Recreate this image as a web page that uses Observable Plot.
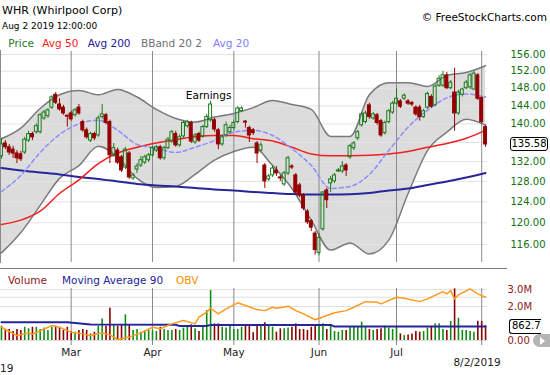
<!DOCTYPE html>
<html><head><meta charset="utf-8">
<script src="https://cdn.jsdelivr.net/npm/d3@7"></script>
<script src="https://cdn.jsdelivr.net/npm/@observablehq/plot@0.6"></script>
<style>
html,body{margin:0;padding:0;background:#fff;}
#wrap{position:relative;width:550px;height:375px;overflow:hidden;font-family:"DejaVu Sans",Verdana,sans-serif;}
.t{position:absolute;white-space:nowrap;line-height:1;}
.pl{position:absolute;left:0;}
.box{position:absolute;border:1px solid #000;border-radius:3px;background:#fff;font-size:10px;line-height:12px;text-align:center;color:#000;box-sizing:border-box;}
</style></head><body>
<div id="wrap"></div>
<script>
// ---- data (trading-day index 0 = Feb 4 2019 ... 125 = Aug 2 2019) ----
const open = [133.1,135.8,135.0,134.5,133.7,133.5,133.9,136.4,137.8,138.2,
138.2,141.2,141.7,143.6,146.5,144.3,143.6,141.8,142.3,141.9,
143.6,140.4,138.6,136.4,137.8,137.5,141.5,141.9,140.4,133.3,
134.3,132.9,130.8,133.7,128.6,130.4,131.2,131.8,132.3,133.3,
134.3,135.0,132.7,134.8,136.2,137.8,135.4,137.3,139.5,140.2,
136.0,137.8,137.3,139.3,140.8,140.8,138.6,135.6,137.5,138.2,
139.1,140.4,142.8,140.5,139.1,138.6,135.8,134.3,131.2,128.4,
129.2,130.2,128.8,127.4,129.6,131.0,129.2,127.2,125.2,122.1,
120.3,118.0,114.5,118.8,126.2,127.6,128.0,130.0,130.0,131.2,
132.9,134.8,136.9,139.7,140.4,144.1,141.2,141.9,140.6,138.0,
140.4,142.5,144.5,145.0,145.6,145.0,144.6,143.6,143.6,141.5,
143.6,146.0,144.1,148.6,148.6,151.0,148.0,147.0,142.3,146.5,
148.0,148.2,147.7,151.0,145.8,139.3];
const high = [136.9,136.4,135.6,135.2,134.3,134.1,137.1,138.4,138.2,140.0,
142.3,143.0,143.4,146.3,147.0,145.6,144.1,141.9,142.8,143.4,
144.3,140.8,139.1,138.2,138.2,141.7,144.3,142.3,140.8,135.8,
134.8,133.3,135.0,134.1,129.6,131.6,133.1,133.3,133.7,135.2,
135.4,135.4,135.2,137.1,138.6,138.4,137.6,140.6,140.8,140.6,
137.9,138.2,139.7,142.1,145.0,141.2,139.0,137.6,140.4,139.7,
140.6,143.8,143.8,140.7,139.5,139.0,136.2,136.0,131.6,129.4,
131.2,131.0,129.2,130.0,133.1,131.4,129.6,127.6,125.6,122.5,
120.6,118.4,118.0,126.0,126.6,129.0,129.6,130.6,132.0,131.6,
135.6,136.2,138.6,142.5,142.8,144.6,142.5,142.3,141.0,140.6,
143.2,145.0,148.0,145.4,146.7,145.4,145.0,144.0,144.1,143.2,
147.1,146.5,148.8,150.9,151.9,151.7,149.8,152.7,147.5,148.0,
149.8,151.4,152.0,151.4,146.0,139.7];
const low = [132.5,134.5,133.3,132.7,131.6,132.0,133.5,136.0,136.4,137.8,
137.8,140.8,141.2,143.2,144.3,142.8,141.9,139.3,140.6,141.5,
141.9,138.2,136.7,136.0,136.4,137.1,141.0,139.8,131.6,132.9,
131.4,129.8,130.4,128.4,128.2,129.6,130.8,131.4,131.8,132.9,
133.9,132.3,132.3,134.5,135.8,135.0,135.0,136.9,139.1,135.8,
135.6,136.0,136.9,139.0,140.4,138.2,134.5,135.2,137.1,137.8,
138.6,140.0,142.5,139.1,136.0,137.5,131.6,134.0,126.6,128.0,
128.8,129.0,128.0,127.0,129.2,130.4,125.4,124.8,122.3,119.7,
118.4,114.1,114.0,118.4,122.7,125.8,127.6,129.8,129.6,129.0,
132.5,134.3,136.4,139.3,140.0,141.0,140.8,139.7,137.1,137.6,
140.0,142.1,144.1,143.4,145.2,144.1,143.8,141.7,140.6,141.2,
143.2,143.4,143.8,148.2,148.2,147.7,147.7,138.4,141.9,146.0,
147.7,147.7,147.5,145.2,140.0,135.0];
const close = [135.6,135.0,133.9,133.7,132.7,132.5,136.6,137.8,137.1,139.5,
141.9,142.5,143.0,145.9,144.7,143.2,142.3,141.6,141.0,143.0,
142.3,138.6,137.1,137.8,136.9,141.2,142.1,140.2,133.3,134.8,
131.8,130.2,134.5,128.8,129.2,131.0,132.3,132.9,133.3,134.8,
135.0,132.7,134.8,136.6,138.2,135.4,137.1,140.2,140.4,136.2,
137.5,136.4,139.3,141.5,144.3,138.8,135.6,137.1,139.7,139.1,
140.2,143.4,143.4,140.3,137.5,138.0,133.7,135.4,128.0,129.0,
130.6,129.6,128.6,129.6,132.7,130.8,125.8,125.2,122.7,120.1,
119.1,115.0,117.2,125.8,124.3,128.4,129.2,130.2,131.0,130.2,
135.2,135.8,138.2,142.1,142.3,141.5,142.1,140.2,137.5,140.2,
142.8,144.5,145.6,143.8,146.3,144.5,144.3,142.1,141.5,142.8,
146.7,143.8,148.4,150.2,151.0,148.0,149.3,142.3,147.0,147.7,
149.3,151.0,151.4,145.6,140.4,135.58];
// volume, millions of shares
const vol = [.84,.59,.65,.53,.65,.59,.78,.69,.78,.78,
.65,.73,.59,.78,.84,.73,.59,.78,.53,.49,
.59,.65,.59,.39,.49,.84,1.27,.84,1.90,.88,
.84,.92,1.51,.92,.59,.65,.49,.59,.59,.59,
.53,.78,.65,.59,.59,.65,.59,.73,.88,.92,
.69,.53,.84,1.76,2.94,.98,.98,.78,.73,.84,
.65,.65,.78,.84,.84,.45,.84,.88,1.04,.84,
.78,.49,.69,.69,.73,.78,.98,.65,.65,.59,
.78,.92,.88,.98,.65,.88,.53,.49,.59,.59,
.78,.84,.78,1.08,.78,.65,.59,.65,.69,.84,
.73,.65,.78,.39,.29,.33,.39,.53,.49,.53,
.73,.84,.98,.98,.65,.59,1.12,3.04,1.31,.59,
.59,.53,.49,1.14,1.12,.8627];

// indicators read every 5 trading days
const indIdx = [0,5,10,15,20,25,30,35,40,45,50,55,60,65,70,75,80,85,90,95,100,105,110,115,120,125];
const bbUpper = [136.8,139.1,143.4,146.5,147.5,146.5,147.7,146.0,143.2,141.2,140.4,141.5,142.3,143.6,145.2,144.3,143.2,137.3,137.3,146.5,149.3,149.3,148.4,151.0,151.7,153.3];
const bbLower = [114.5,118.2,123.3,128.6,131.2,135.2,132.9,128.6,126.8,127.0,129.4,132.3,134.1,135.0,131.2,126.6,120.5,115.0,116.3,114.3,116.8,125.6,134.3,138.2,141.0,139.7];
const avg20 = [126.0,129.2,133.9,137.7,140.0,140.8,138.6,135.6,134.8,133.9,135.0,136.4,138.2,138.6,137.5,134.7,131.2,126.6,127.0,129.4,134.3,139.3,143.0,145.8,146.7,146.0];
const avg50 = [119.7,120.5,122.2,125.6,128.3,131.6,133.8,135.0,135.9,136.6,137.2,137.5,137.5,136.8,136.3,135.0,133.6,133.2,133.2,133.3,133.6,134.1,135.0,135.8,136.9,138.6];
const avg200 = [130.7,130.2,129.8,129.4,128.9,128.5,128.0,127.5,127.2,127.0,126.7,126.4,126.2,125.9,125.7,125.5,125.4,125.4,125.45,125.7,126.2,126.6,127.3,128.0,128.8,129.7];

// volume moving average 90 (millions)
const ma90Idx = [0,17,23,45,46,53,54,85,86,125];
const ma90Val = [1.08,1.08,0.94,0.93,0.85,0.85,0.92,0.92,0.82,0.82];
// OBV, expressed in the volume panel's display units (own hidden scale)
const obvIdx = [0,2,4,7,8,13,15,18,21,23,26,28,30,33,36,39,41,44,47,50,51,53,54,56,58,61,63,66,68,70,71,74,76,78,81,84,86,89,91,94,97,98,102,104,108,110,114,115,116,117,118,121,123,125];
const obvVal = [0.78,0.53,0.29,0.45,0.37,0.88,0.78,0.49,0.39,0.29,0.45,0.33,0.06,0.20,0.45,0.78,0.69,0.98,1.18,0.98,1.37,1.67,1.90,1.57,1.86,2.22,2.06,1.82,1.76,1.96,1.90,2.02,1.76,1.57,1.22,1.47,1.63,1.76,1.96,2.29,2.25,2.16,2.55,2.49,2.29,2.45,2.88,2.75,2.94,2.45,2.69,3.04,2.75,2.55];

const priceTicks = [116,120,124,128,132,136,140,144,148,152,156];
const volTicks = [0,2,3];
const volGrid = [0,2.0,2.55,3.0];
const monthIdx = [18,39,60,82,102,124];
const monthLabels = ["Mar","Apr","May","Jun","Jul",""];
const events = [{i:54, label:"Earnings"}];
const lastDate = "8/2/2019";

// ---- build ----
const GREEN = "#1a7a1a", RED = "#940000";
const VGREEN = "#138a13", VRED = "#8b0000";
const candles = open.map((o,i)=>({i, o, h:high[i], l:low[i], c:close[i], v:vol[i], up: close[i] >= o}));
const ind = indIdx.map((i,k)=>({i, hi:bbUpper[k], lo:bbLower[k], a20:avg20[k], a50:avg50[k], a200:avg200[k]}));
const ma90 = ma90Idx.map((i,k)=>({i, v:ma90Val[k]}));
const obv = obvIdx.map((i,k)=>({i, v:obvVal[k]}));
const ev = events.map(e=>({...e, y: high[e.i]}));
const xDomain = [-0.25, 125.5];
const font = '"DejaVu Sans", Verdana, sans-serif';
const curve = "monotone-x";

const main = Plot.plot({
  width:550, height:270, marginTop:50, marginBottom:8, marginLeft:0, marginRight:63,
  style:{fontFamily:font, fontSize:"10px", background:"transparent", overflow:"visible"},
  x:{domain:xDomain, axis:null, label:null},
  y:{type:"log", domain:[112.8,156.97], label:null},
  marks:[
    Plot.areaY(ind, {x:"i", y1:"lo", y2:"hi", fill:"#dcdcdc", curve}),
    Plot.ruleY(priceTicks, {stroke:"#e4e4e4"}),
    Plot.ruleX(monthIdx, {stroke:"#8a8a8a", insetTop:1}),
    Plot.frame({anchor:"left", stroke:"#8a8a8a"}),
    Plot.line(ind, {x:"i", y:"hi", stroke:"#7a7a7a", strokeWidth:1.5, curve}),
    Plot.line(ind, {x:"i", y:"lo", stroke:"#7a7a7a", strokeWidth:1.5, curve}),
    Plot.line(ind, {x:"i", y:"a200", stroke:"#26269a", strokeWidth:2, curve}),
    Plot.line(ind, {x:"i", y:"a50", stroke:"#f02020", strokeWidth:1.5, curve}),
    Plot.line(ind, {x:"i", y:"a20", stroke:"#8c8cff", strokeWidth:1.5, strokeDasharray:"4,3", curve}),
    // wicks
    Plot.ruleX(candles, {filter:d=>d.up, x:"i", y1:"h", y2:d=>Math.max(d.o,d.c), stroke:GREEN}),
    Plot.ruleX(candles, {filter:d=>d.up, x:"i", y1:d=>Math.min(d.o,d.c), y2:"l", stroke:GREEN}),
    Plot.ruleX(candles, {filter:d=>!d.up, x:"i", y1:"h", y2:"l", stroke:RED}),
    // bodies
    Plot.rect(candles, {filter:d=>d.up, x1:d=>d.i-0.38, x2:d=>d.i+0.38, y1:"o", y2:"c", fill:"none", stroke:GREEN, strokeWidth:1}),
    Plot.rect(candles, {filter:d=>!d.up, x1:d=>d.i-0.38, x2:d=>d.i+0.38, y1:"o", y2:"c", fill:RED, stroke:RED, strokeWidth:1}),
    Plot.text(ev, {x:"i", y:"y", text:"label", dx:-2, dy:-6, fill:"#000", fontSize:10.5}),
    Plot.axisY(priceTicks, {anchor:"right", label:null, tickSize:0, tickPadding:23, tickFormat:d=>d.toFixed(2), color:"#117011", fontSize:10})
  ]
});

const vp = Plot.plot({
  width:550, height:105, marginTop:15, marginBottom:35, marginLeft:0, marginRight:63,
  style:{fontFamily:font, fontSize:"10px", background:"transparent", overflow:"visible"},
  x:{domain:xDomain, label:null},
  y:{domain:[0,3.24], label:null},
  marks:[
    Plot.ruleY(volGrid, {stroke:"#e0e0e0"}),
    Plot.ruleX(monthIdx, {stroke:"#8a8a8a", insetTop:3, insetBottom:-5}),
    Plot.ruleX(candles, {filter:d=>d.up, x:"i", y1:0, y2:"v", stroke:VGREEN, strokeWidth:1.6}),
    Plot.ruleX(candles, {filter:d=>!d.up, x:"i", y1:0, y2:"v", stroke:VRED, strokeWidth:1.6}),
    Plot.line(ma90, {x:"i", y:"v", stroke:"#26269a", strokeWidth:2}),
    Plot.line(obv, {x:"i", y:"v", stroke:"#ff9a1f", strokeWidth:1.5}),
    Plot.axisY(volTicks, {anchor:"right", label:null, tickSize:0, tickPadding:20, tickFormat:d=>d===0?"0.00":d.toFixed(1)+"M", color:"#8b1a1a", fontSize:10}),
    Plot.axisX(monthIdx.slice(0,5), {label:null, tickSize:0, tickPadding:8, tickFormat:d=>monthLabels[monthIdx.indexOf(d)], color:"#222", fontSize:10.5})
  ]
});

const wrap = document.getElementById("wrap");
main.classList.add("pl"); main.style.top = "0px";
vp.classList.add("pl"); vp.style.top = "270px";
wrap.appendChild(main);
wrap.appendChild(vp);

function txt(s, left, top, size, color, extra){
  const d = document.createElement("div");
  d.className = "t"; d.textContent = s;
  d.style.left = left+"px"; d.style.top = top+"px";
  d.style.fontSize = size+"px"; d.style.color = color;
  if (extra) Object.assign(d.style, extra);
  wrap.appendChild(d); return d;
}
txt("WHR (Whirlpool Corp)", 2, 4.7, 11, "#000");
txt("Aug 2 2019 12:00:00", 2, 21.5, 9, "#000");
txt("© FreeStockCharts.com", 547, 11.7, 10.5, "#000", {transform:"translateX(-100%)"});
const leg = [["Price",8.3,"#1f7a1f"],["Avg 50",42.3,"#ff1a1a"],["Avg 200",87.7,"#22229a"],["BBand 20 2",141,"#707070"],["Avg 20",213,"#8080ff"]];
leg.forEach(([s,x,c])=>txt(s, x, 38.3, 10.5, c));
const vleg = [["Volume",8,"#8b1a1a"],["Moving Average 90",62,"#22229a"],["OBV",176,"#ff8c00"]];
vleg.forEach(([s,x,c])=>txt(s, x, 275, 10.5, c));
txt("19", 0, 363, 10.5, "#222");
txt(lastDate, 477, 357, 10.5, "#222", {transform:"translateX(-50%)"});

// separator
const sep = document.createElement("div");
Object.assign(sep.style, {position:"absolute", left:"0px", top:"268px", width:"507px", height:"1px", background:"#7a7a7a"});
wrap.appendChild(sep);

// value boxes positioned through the plots' scales
const lastClose = close[close.length-1];
const yMain = main.scale("y").apply(lastClose);
const b1 = document.createElement("div"); b1.className = "box";
Object.assign(b1.style, {left:"510px", top:(yMain-7)+"px", width:"38px", height:"14px"});
b1.textContent = lastClose.toFixed(2); wrap.appendChild(b1);

const lastVol = vol[vol.length-1];
const yVol = 270 + vp.scale("y").apply(lastVol);
const b2 = document.createElement("div"); b2.className = "box";
Object.assign(b2.style, {left:"509px", top:(yVol-6)+"px", width:"32px", height:"15px", borderRight:"none", borderRadius:"3px 0 0 3px", textAlign:"left", paddingLeft:"2px"});
b2.textContent = (lastVol*1000).toFixed(1); wrap.appendChild(b2);

// scroll arrow button
const btn = document.createElement("div");
Object.assign(btn.style, {position:"absolute", left:"533px", top:"334px", width:"17px", height:"13px", background:"#b4b4b4", borderRadius:"7px 0 0 7px"});
const tri = document.createElement("div");
Object.assign(tri.style, {position:"absolute", left:"7px", top:"2.5px", width:"0", height:"0", borderTop:"4px solid transparent", borderBottom:"4px solid transparent", borderLeft:"5px solid #fff"});
btn.appendChild(tri); wrap.appendChild(btn);
</script>
</body></html>
